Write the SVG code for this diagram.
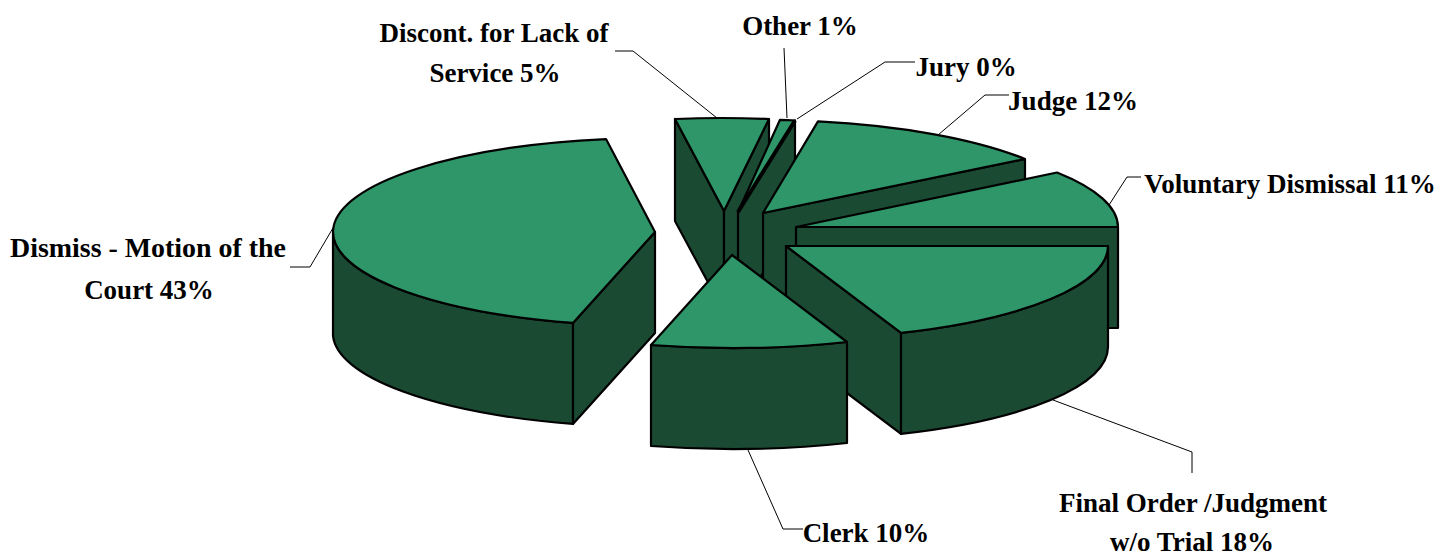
<svg xmlns="http://www.w3.org/2000/svg" width="1456" height="558" viewBox="0 0 1456 558">
<style>
.top{fill:#2E9668;stroke:#000;stroke-width:2.2;stroke-linejoin:round}
.side{fill:#1B4A33;stroke:#000;stroke-width:2.2;stroke-linejoin:round}
.lbl{font-weight:bold;font-size:27px;fill:#000;text-anchor:middle}
.lead{fill:none;stroke:#000;stroke-width:1}
</style>
<rect width="1456" height="558" fill="#fff"/>
<g id="slice-discont">
<path class="side" d="M724,211 L675,119 L675,221 L724,312 Z"/>
<path class="side" d="M724,211 L769,119 L769,221 L724,312 Z"/>
<path class="top" d="M724,211 L675,119 A322,93 0 0,1 769,119 Z"/>
<text class="lbl" font-family="Liberation Serif, DejaVu Serif, serif" x="494" y="42">Discont. for Lack of</text>
<text class="lbl" font-family="Liberation Serif, DejaVu Serif, serif" x="495" y="82">Service 5%</text>
</g>
<g id="slice-other">
<path class="side" d="M738,212 L795,120.5 L795,221.5 L738,313 Z"/>
<path class="top" d="M738,212 L780,119.8 A322,93 0 0,1 795,120.5 Z"/>
<text class="lbl" font-family="Liberation Serif, DejaVu Serif, serif" x="800" y="35">Other 1%</text>
</g>
<g id="slice-jury">
<path d="M738,212 L795,120.5" fill="none" stroke="#000" stroke-width="4"/>
<text class="lbl" font-family="Liberation Serif, DejaVu Serif, serif" x="966" y="76">Jury 0%</text>
</g>
<g id="slice-judge">
<path class="side" d="M763,213 L1025,159 L1025,260 L763,314 Z"/>
<path class="top" d="M763,213 L1025,159 A322,93 0 0,0 818,121.4 Z"/>
<text class="lbl" font-family="Liberation Serif, DejaVu Serif, serif" x="1073" y="110">Judge 12%</text>
</g>
<g id="slice-voluntary">
<path class="side" d="M796,227 L1118,227 L1118,328 L796,328 Z"/>
<path class="top" d="M796,227 L1118,227 A322,93 0 0,0 1057,172.5 Z"/>
<text class="lbl" font-family="Liberation Serif, DejaVu Serif, serif" x="1290" y="193">Voluntary Dismissal 11%</text>
</g>
<g id="slice-dismiss">
<path class="side" d="M333,232 A322,94 0 0,0 573,322.9 L573,423.9 A322,94 0 0,1 333,336 Z"/>
<path class="side" d="M655,232 L573,322.9 L573,423.9 L655,333 Z"/>
<path class="top" d="M655,232 L606,139.1 A322,94 0 0,0 573,322.9 Z"/>
<text class="lbl" font-family="Liberation Serif, DejaVu Serif, serif" x="148" y="257" textLength="276" lengthAdjust="spacingAndGlyphs">Dismiss - Motion of the</text>
<text class="lbl" font-family="Liberation Serif, DejaVu Serif, serif" x="149" y="299">Court 43%</text>
</g>
<g id="slice-final">
<path class="side" d="M786,246 L901,332.9 L901,433.9 L786,347 Z"/>
<path class="side" d="M1108,246 A322,93 0 0,1 901,332.9 L901,433.9 A322,93 0 0,0 1108,347 Z"/>
<path class="top" d="M786,246 L1108,246 A322,93 0 0,1 901,332.9 Z"/>
<text class="lbl" font-family="Liberation Serif, DejaVu Serif, serif" x="1193" y="512">Final Order /Judgment</text>
<text class="lbl" font-family="Liberation Serif, DejaVu Serif, serif" x="1192" y="551">w/o Trial 18%</text>
</g>
<g id="slice-clerk">
<path class="side" d="M651,345 A322,93 0 0,0 847,342 L847,443 A322,93 0 0,1 651,446 Z"/>
<path class="top" d="M732,255 L651,345 A322,93 0 0,0 847,342 Z"/>
<text class="lbl" font-family="Liberation Serif, DejaVu Serif, serif" x="866" y="542">Clerk 10%</text>
</g>
<g id="connectors">
<polyline class="lead" points="615,51 633,51 717,118"/>
<polyline class="lead" points="784,48 787,118"/>
<polyline class="lead" points="797,119 885,62 915,62"/>
<polyline class="lead" points="938,135 985,95 1009,95"/>
<polyline class="lead" points="1109,205 1127,177 1141,177"/>
<polyline class="lead" points="290,267 310,267 333,228"/>
<polyline class="lead" points="748,450 783,529 803,529"/>
<polyline class="lead" points="1053,400 1192,452 1192,473"/>
</g>
</svg>
